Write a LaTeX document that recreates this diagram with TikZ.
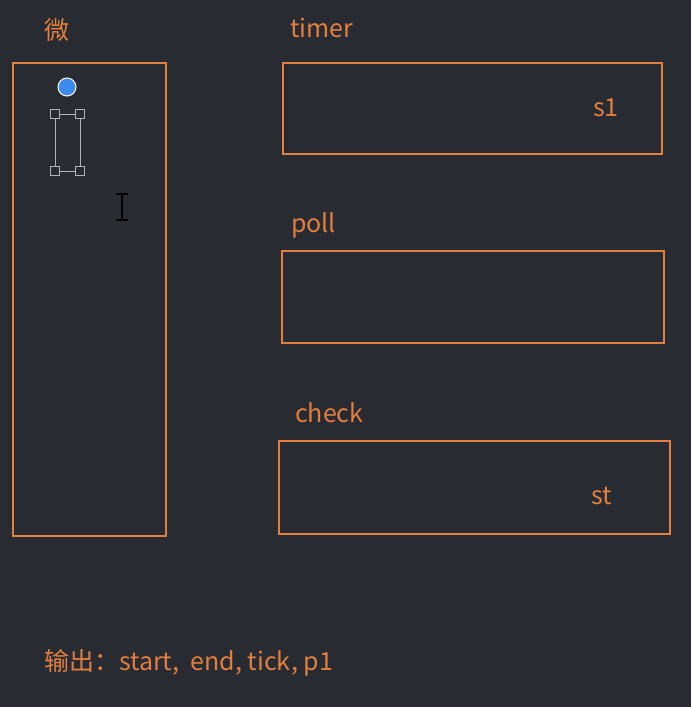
\documentclass[tikz,border=0pt]{standalone}
\usepackage{fontspec}
\setmainfont{Noto Sans CJK SC}
\definecolor{bg}{HTML}{292B33}
\definecolor{org}{HTML}{E07F3E}
\definecolor{dot}{HTML}{3D8BF0}
\tikzset{
  box/.style={draw=org, line width=1.6pt},
  lbl/.style={text=org, font=\fontsize{25}{28}\selectfont, inner sep=0pt},
  handle/.style={draw=gray!60, fill=bg, minimum size=9pt, inner sep=0pt, line width=0.9pt}
}
\begin{document}
\begin{tikzpicture}[x=1pt,y=-1pt]
% background
\fill[bg] (0,0) rectangle (691,707);
\useasboundingbox (0,0) rectangle (691,707);

% boxes
\draw[box] (13,63) rectangle (166,536);
\draw[box] (283,63) rectangle (662,154);
\draw[box] (282,251) rectangle (664,343);
\draw[box] (279,441) rectangle (670,534);

% labels
\node[lbl] (wei) at (57,30) {微};
\node[lbl, anchor=west] (timer) at (290,28) {timer};
\node[lbl, anchor=west] (poll) at (291,225) {poll};
\node[lbl, anchor=west] (check) at (295,413) {check};
\node[lbl] (s1) at (606,108) {s1};
\node[lbl] (st) at (602,496) {st};
\node[lbl, anchor=west] (out) at (44,663) {输出：start,\ \ end, tick, p1};

% selection
\node[circle, fill=dot, draw=white!85, line width=1pt, minimum size=18pt, inner sep=0pt] (knob) at (67,87) {};
\node[handle] (h1) at (55,114) {};
\node[handle] (h2) at (80,114) {};
\node[handle] (h3) at (55,171) {};
\node[handle] (h4) at (80,171) {};
\draw[gray!60, line width=0.9pt] (h1) -- (h2) (h2) -- (h4) (h4) -- (h3) (h3) -- (h1);

% cursor
\draw[black, line width=1.4pt] (122,194) -- (122,220) (116,194) -- (128,194) (116,220) -- (128,220);
\end{tikzpicture}
\end{document}
